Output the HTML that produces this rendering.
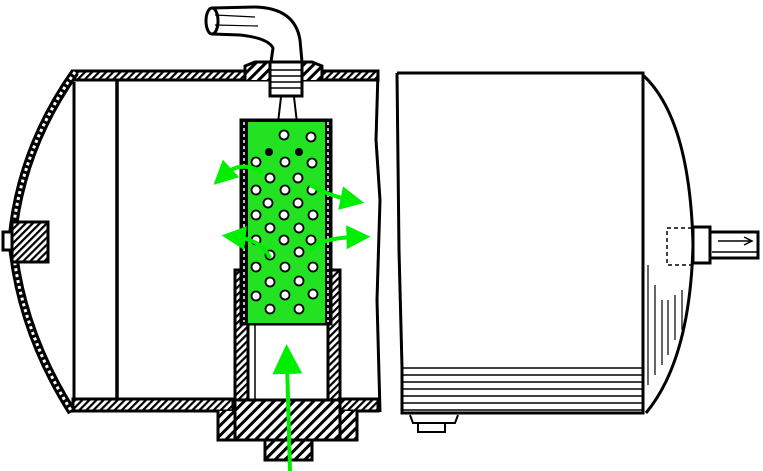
<!DOCTYPE html>
<html><head><style>html,body{margin:0;padding:0;background:#fff;}svg{display:block}</style></head>
<body>
<svg width="763" height="471" viewBox="0 0 763 471" xmlns="http://www.w3.org/2000/svg">
<defs>
<pattern id="h" width="5" height="5" patternUnits="userSpaceOnUse" patternTransform="rotate(45)">
<rect width="5" height="5" fill="#fff"/><rect width="2.2" height="5" fill="#000"/></pattern>
<pattern id="h2" width="7" height="7" patternUnits="userSpaceOnUse" patternTransform="rotate(45)">
<rect width="7" height="7" fill="#fff"/><rect width="3" height="7" fill="#000"/></pattern>
<marker id="a" viewBox="0 0 10 10" refX="4" refY="5" markerWidth="6" markerHeight="6" orient="auto"><path d="M0,0L10,5L0,10z" fill="#00ee00"/></marker>
<marker id="b" viewBox="0 0 10 10" refX="4" refY="5" markerWidth="7.5" markerHeight="7.5" orient="auto"><path d="M0,0L10,5L0,10z" fill="#00ee00"/></marker>
</defs>
<g stroke="#000" fill="none" stroke-width="3">
<!-- left tank shell -->
<rect x="73" y="71" width="305" height="9" fill="url(#h)"/>
<rect x="73" y="399" width="160" height="12" fill="url(#h)"/>
<rect x="340" y="399" width="38" height="12" fill="url(#h)"/>
<path d="M75,72 Q20,150 12,240 Q20,330 72,412" stroke-width="9"/>
<path d="M75,72 Q20,150 12,240 Q20,330 72,412" stroke="#fff" stroke-width="3" stroke-dasharray="3 3"/>
<line x1="74" y1="82" x2="74" y2="398"/>
<line x1="117" y1="80" x2="117" y2="399" stroke-width="3.5"/>
<path d="M378,72 L376,140 L380,200 L377,300 L380,412"/>
<!-- left nipple -->
<rect x="12" y="222" width="36" height="40" fill="url(#h)"/>
<rect x="3" y="232" width="9" height="18" fill="#fff"/>
<!-- top fitting -->
<path d="M245,80 L245,66 L255,62 L312,62 L322,66 L322,80" fill="url(#h2)"/>
<rect x="270" y="62" width="32" height="34" fill="#fff"/>
<path d="M271,70h30M271,76h30M271,82h30M271,88h30" stroke-width="1.5"/>
<path d="M271,62 L273,48 Q268,38 240,35 L212,34 M302,62 L300,40 Q295,8 255,7 L212,8" stroke-width="3"/>
<ellipse cx="212" cy="21" rx="6" ry="13" fill="#fff"/>
<path d="M215,15 L255,17 M215,25 L258,26" stroke-width="1.2"/>
<!-- wires -->
<path d="M281,97 L276,140 L270,160 M294,97 L299,140 L300,158" stroke-width="2"/>
<!-- lower tube -->
<rect x="235" y="270" width="13" height="130" fill="url(#h)"/>
<rect x="328" y="270" width="12" height="130" fill="url(#h)"/>
<rect x="248" y="323" width="80" height="77" fill="#fff"/>
<line x1="255" y1="323" x2="255" y2="400" stroke-width="1.5"/>
<!-- base plug -->
<path d="M218,411 L218,440 L265,440 L265,460 L312,460 L312,440 L357,440 L357,411" fill="url(#h2)"/>
<rect x="235" y="400" width="105" height="40" fill="url(#h2)"/>
<!-- screen frame -->
<rect x="241" y="120" width="90" height="204" fill="#000"/>
<path d="M244,122v200M328,122v200" stroke="#fff" stroke-width="1.5" stroke-dasharray="3 3"/>
</g>
<rect x="248" y="122" width="77" height="201" fill="#22e222"/>
<g fill="#fff" stroke="#000" stroke-width="1.8">
<circle cx="284" cy="135" r="4.5"/><circle cx="311" cy="137" r="4.5"/>
<circle cx="256" cy="162" r="4.5"/><circle cx="285" cy="162" r="4.5"/><circle cx="312" cy="163" r="4.5"/>
<circle cx="270" cy="178" r="4.5"/><circle cx="298" cy="178" r="4.5"/>
<circle cx="256" cy="190" r="4.5"/><circle cx="285" cy="190" r="4.5"/><circle cx="312" cy="190" r="4.5"/>
<circle cx="268" cy="203" r="4.5"/><circle cx="298" cy="203" r="4.5"/>
<circle cx="256" cy="215" r="4.5"/><circle cx="284" cy="215" r="4.5"/><circle cx="313" cy="215" r="4.5"/>
<circle cx="270" cy="228" r="4.5"/><circle cx="299" cy="228" r="4.5"/>
<circle cx="256" cy="240" r="4.5"/><circle cx="284" cy="240" r="4.5"/><circle cx="311" cy="240" r="4.5"/>
<circle cx="270" cy="255" r="4.5"/><circle cx="299" cy="252" r="4.5"/>
<circle cx="256" cy="267" r="4.5"/><circle cx="285" cy="267" r="4.5"/><circle cx="313" cy="267" r="4.5"/>
<circle cx="270" cy="282" r="4.5"/><circle cx="299" cy="281" r="4.5"/>
<circle cx="256" cy="296" r="4.5"/><circle cx="285" cy="295" r="4.5"/><circle cx="313" cy="294" r="4.5"/>
<circle cx="270" cy="309" r="4.5"/><circle cx="299" cy="309" r="4.5"/>
</g>
<circle cx="269" cy="152" r="4" fill="#000"/><circle cx="299" cy="152" r="4" fill="#000"/>
<!-- green arrows -->
<g stroke="#00ee00" fill="none" stroke-width="4">
<path d="M290,471 L287,362" marker-end="url(#b)"/>
<path d="M262,172 Q240,160 224,175" marker-end="url(#a)"/>
<path d="M310,185 Q330,196 350,200" marker-end="url(#a)"/>
<path d="M270,258 Q262,240 236,237" marker-end="url(#a)"/>
<path d="M310,250 Q320,238 356,237" marker-end="url(#a)"/>
</g>
<!-- right tank -->
<g stroke="#000" fill="none" stroke-width="3">
<path d="M397,73 L643,73 L643,413 L402,413 L402,367 L399,250 L397,73"/>
<path d="M644,76 Q690,120 693,245 Q690,360 646,413"/>
<path d="M402,368h240M402,375h240M402,382h240M402,389h240M402,396h240M402,403h240M402,410h240" stroke-width="1.5"/>
<path d="M648,265v120M655,285v90M662,300v65M668,300v55M675,295v45M682,290v40" stroke-width="1.2"/>
<path d="M410,415 L413,423 L455,423 L458,415 M418,423 L418,432 L445,432 L445,423" stroke-width="2"/>
<rect x="667" y="228" width="26" height="37" stroke-dasharray="4 3" stroke-width="1.5"/>
<rect x="693" y="227" width="17" height="36" fill="#fff"/>
<rect x="710" y="232" width="48" height="26" fill="#fff"/>
<path d="M718,241 L750,241 M744,237 L752,241 L744,245 M712,252h45" stroke-width="1.5"/>
</g>
</svg>
</body></html>
